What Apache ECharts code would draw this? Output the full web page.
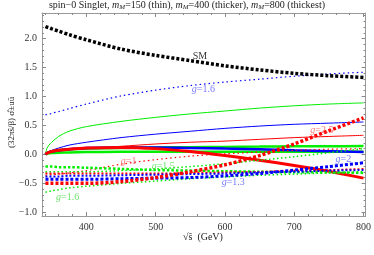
<!DOCTYPE html>
<html><head><meta charset="utf-8">
<script src="https://cdn.jsdelivr.net/npm/echarts@6/dist/echarts.min.js"></script>
<style>html,body{margin:0;padding:0;background:#fff}#c{width:374px;height:255px}</style>
</head><body><div id="c"></div>
<script>
// sqrt(s) sample points (GeV)
const xs = [341, 343, 346, 350, 360, 375, 400, 450, 500, 550, 600, 650, 700, 750, 800];
// Standard model
const smVals = [2.21, 2.20, 2.19, 2.17, 2.13, 2.07, 1.98, 1.82, 1.71, 1.62, 1.53, 1.46, 1.40, 1.36, 1.33];
// solid curves
const greenThin = [0, 0.10, 0.16, 0.21, 0.31, 0.40, 0.48, 0.57, 0.64, 0.70, 0.75, 0.80, 0.84, 0.87, 0.89];
const blueThin  = [0, 0.03, 0.05, 0.07, 0.11, 0.16, 0.21, 0.29, 0.35, 0.40, 0.45, 0.49, 0.52, 0.54, 0.56];
const redThin   = [0, 0.015, 0.025, 0.035, 0.055, 0.08, 0.10, 0.14, 0.18, 0.21, 0.23, 0.26, 0.29, 0.31, 0.33];
const green400  = [0, 0.02, 0.035, 0.05, 0.07, 0.09, 0.10, 0.11, 0.12, 0.125, 0.13, 0.135, 0.14, 0.14, 0.145];
const blue400   = [0, 0.02, 0.04, 0.05, 0.07, 0.09, 0.11, 0.12, 0.12, 0.11, 0.10, 0.09, 0.07, 0.055, 0.04];
const green800  = [0, 0.01, 0.02, 0.025, 0.03, 0.035, 0.04, 0.045, 0.045, 0.045, 0.045, 0.045, 0.045, 0.045, 0.045];
const red800    = [0, 0.02, 0.035, 0.05, 0.07, 0.09, 0.11, 0.12, 0.10, 0.05, -0.02, -0.10, -0.19, -0.29, -0.41];
// dotted curves
const blueThinDot  = [0.68, 0.69, 0.69, 0.71, 0.74, 0.79, 0.87, 1.01, 1.11, 1.19, 1.25, 1.30, 1.35, 1.39, 1.42];
const redThinDot   = [-0.36, -0.36, -0.36, -0.35, -0.34, -0.32, -0.28, -0.17, -0.09, -0.03, 0.01, 0.04, 0.07, 0.09, 0.10];
const greenThinDot = [-0.30, -0.30, -0.30, -0.30, -0.30, -0.30, -0.30, -0.28, -0.25, -0.21, -0.16, -0.10, -0.04, 0.03, 0.10];
const greenMedDot  = [-0.21, -0.21, -0.21, -0.21, -0.22, -0.22, -0.23, -0.25, -0.27, -0.28, -0.29, -0.30, -0.31, -0.31, -0.32];
const redMedDot    = [-0.33, -0.33, -0.33, -0.33, -0.33, -0.33, -0.33, -0.33, -0.33, -0.32, -0.31, -0.30, -0.28, -0.27, -0.25];
const blueMedDot   = [-0.38, -0.38, -0.38, -0.38, -0.38, -0.37, -0.37, -0.36, -0.35, -0.34, -0.33, -0.31, -0.30, -0.28, -0.27];
const blueThickDot = [-0.43, -0.43, -0.43, -0.43, -0.43, -0.43, -0.43, -0.42, -0.41, -0.40, -0.37, -0.33, -0.27, -0.21, -0.145];
const redThickDot  = [-0.50, -0.50, -0.50, -0.50, -0.50, -0.50, -0.50, -0.47, -0.40, -0.30, -0.18, -0.02, 0.18, 0.41, 0.63];
const greenLowDot  = [-0.65, -0.65, -0.64, -0.63, -0.61, -0.58, -0.55, -0.50, -0.46, -0.42, -0.39, -0.36, -0.34, -0.32, -0.30];
// tick values
const xMajor = [400, 500, 600, 700, 800];
const xMinor = [340,360,380,420,440,460,480,520,540,560,580,620,640,660,680,720,740,760,780,800];
const yMajor = [-1, -0.5, 0, 0.5, 1, 1.5, 2];
const yMinor = [-1.0,-0.9,-0.8,-0.7,-0.6,-0.4,-0.3,-0.2,-0.1,0.1,0.2,0.3,0.4,0.6,0.7,0.8,0.9,1.1,1.2,1.3,1.4,1.6,1.7,1.8,1.9,2.1,2.2,2.3,2.4];
// annotations [x, y, text, color]
const notes = [
  [564, 1.69, 'SM', '#000'],
  [569, 1.12, 'g=1.6', '#5555ff'],
  [461, -0.12, 'g=1', '#ff5555'],
  [511, -0.21, 'g=1.5', '#44dd44'],
  [373, -0.74, 'g=1.6', '#44dd44'],
  [612, -0.48, 'g=1.3', '#5555ff'],
  [771, -0.09, 'g=2', '#5555ff'],
  [740, 0.42, 'g=2.5', '#ff5555']
];

const RED = '#ff0000', GREEN = '#00ee00', BLUE = '#0000ff';
const pts = arr => arr.map((v, i) => [xs[i], v]);
function line(data, color, width, dash, z) {
  return { type: 'line', data: pts(data), showSymbol: false, smooth: 0.3, silent: true, z: z || 2,
    lineStyle: { color: color, width: width, type: dash ? dash : 'solid', cap: 'butt' } };
}
const serif = 'Liberation Serif';
const FX = 336, TX = 803, FY = -1.064, TY = 2.443;
const grid = { left: 42, right: 5, top: 13, bottom: 39 };
function xa(pos, vals, len, labels, line) {
  return { type: 'value', min: FX, max: TX, position: pos, gridIndex: 0,
    axisLine: { show: line, onZero: false, lineStyle: { color: '#999', width: 1 } },
    axisTick: { show: true, inside: true, length: len, customValues: vals, lineStyle: { color: '#888' } },
    axisLabel: { show: labels, customValues: xMajor, color: '#333', fontFamily: serif, fontSize: 10, margin: 6 },
    splitLine: { show: false } };
}
function ya(pos, vals, len, labels, line) {
  return { type: 'value', min: FY, max: TY, position: pos, gridIndex: 0,
    axisLine: { show: line, onZero: false, lineStyle: { color: '#999', width: 1 } },
    axisTick: { show: true, inside: true, length: len, customValues: vals, lineStyle: { color: '#888' } },
    axisLabel: { show: labels, customValues: yMajor, color: '#333', fontFamily: serif, fontSize: 10, margin: 5,
      formatter: v => (v < 0 ? '\u2212' : '') + Math.abs(v).toFixed(1) },
    splitLine: { show: false } };
}

const series = [
  line(greenThin, GREEN, 1),
  line(blueThin, BLUE, 1),
  line(redThin, RED, 1),
  line(green800, GREEN, 2.5),
  line(green400, GREEN, 2.5),
  line(blue400, BLUE, 2.5),
  line(red800, RED, 3),
  line(blueThinDot, BLUE, 1.2, [1.5, 3]),
  line(redThinDot, RED, 1.2, [1.5, 3]),
  line(greenThinDot, GREEN, 1.5, [1.5, 2.5]),
  line(greenLowDot, GREEN, 1.5, [1.5, 2.5]),
  line(greenMedDot, GREEN, 2.5, [2.5, 2]),
  line(redMedDot, RED, 1.8, [2, 2]),
  line(blueMedDot, BLUE, 2, [2, 2]),
  line(blueThickDot, BLUE, 3, [3, 2]),
  line(redThickDot, RED, 3.5, [3, 2], 3),
  line(smVals, '#000', 3.5, [3, 2], 4),
  { type: 'scatter', symbolSize: 0, silent: true, z: 5,
    data: notes.map(n => ({ value: [n[0], n[1]], label: { show: true, position: 'inside', formatter: n[2] === 'SM' ? 'SM' : '{i|g}{n|' + n[2].slice(1) + '}',
      color: n[3], fontFamily: serif, fontSize: 10,
      rich: { i: { fontStyle: 'italic', color: n[3], fontFamily: serif, fontSize: 10 }, n: { color: n[3], fontFamily: serif, fontSize: 10 } } } })) }
];
series.forEach(s => { s.xAxisIndex = 0; s.yAxisIndex = 0; });

const chart = echarts.init(document.getElementById('c'));
chart.setOption({
  animation: false,
  backgroundColor: '#fff',
  grid: grid,
  xAxis: [xa('bottom', xMajor, 4, true, true), xa('top', xMajor, 4, false, true), xa('bottom', xMinor, 2, false, false), xa('top', xMinor, 2, false, false)],
  yAxis: [ya('left', yMajor, 4, true, true), ya('right', yMajor, 4, false, true), ya('left', yMinor, 2, false, false), ya('right', yMinor, 2, false, false)],
  series: series,
  graphic: [
    { type: 'text', left: 'center', top: 0, style: { text: '{a|spin\u22120 Singlet, }{i|m}{s|M}{a|=150 (thin), }{i|m}{s|M}{a|=400 (thicker), }{i|m}{s|M}{a|=800 (thickest)}',
      rich: { a: { fontFamily: serif, fontSize: 10, fill: '#222' }, i: { fontFamily: serif, fontSize: 10, fontStyle: 'italic', fill: '#222' },
              s: { fontFamily: serif, fontSize: 7, fontStyle: 'italic', fill: '#222', verticalAlign: 'bottom', padding: [4, 0, 0, 0] } } } },
    { type: 'text', left: 183, top: 232, style: { text: '\u221As\u0302  (GeV)', fontFamily: serif, fontSize: 10, fill: '#222' } },
    { type: 'text', x: 7, y: 148, rotation: Math.PI / 2, style: { text: '(32\u03C0s\u0302/\u03B2) \u03C3\u0302\u00B1uu\u0304', fontFamily: serif, fontSize: 9, fill: '#222' } }
  ]
});
</script></body></html>
